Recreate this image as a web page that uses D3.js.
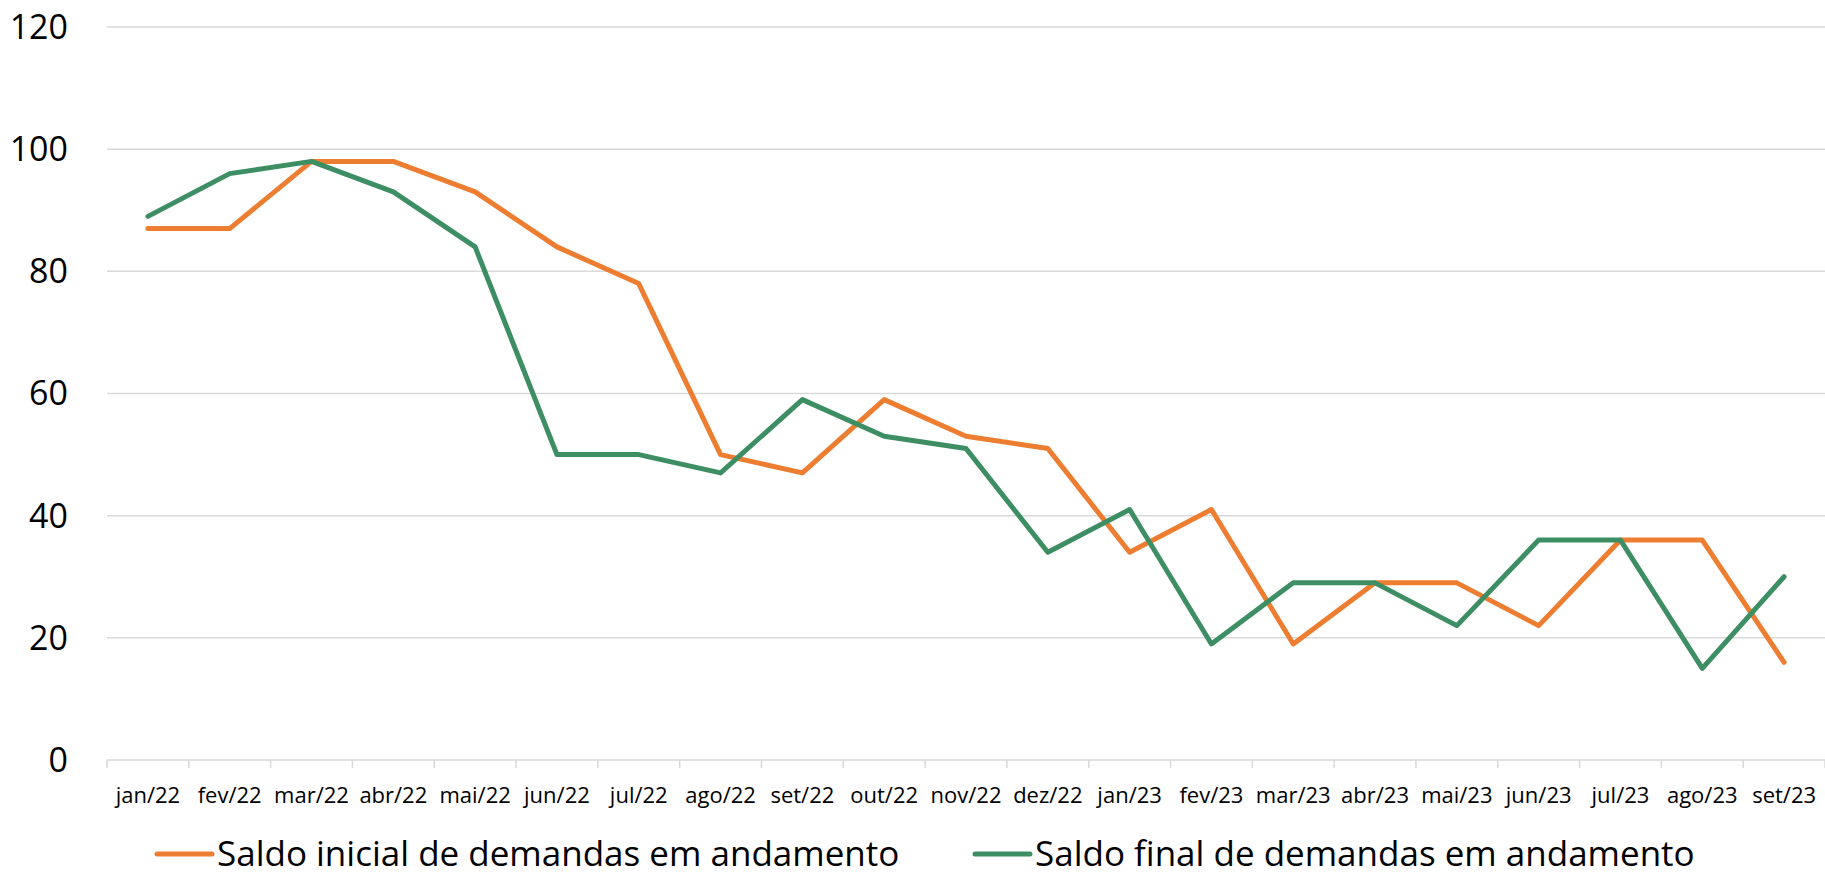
<!DOCTYPE html>
<html>
<head>
<meta charset="utf-8">
<script src="https://cdn.jsdelivr.net/npm/d3@7"></script>
<style>
  body { margin: 0; background: #fff; }
  svg { display: block; font-family: "Open Sans", "Noto Sans", sans-serif; }
</style>
</head>
<body>
<div id="chart"></div>
<script>
const months = ["jan/22", "fev/22", "mar/22", "abr/22", "mai/22", "jun/22", "jul/22", "ago/22", "set/22",
    "out/22", "nov/22", "dez/22", "jan/23", "fev/23", "mar/23", "abr/23", "mai/23", "jun/23", "jul/23",
    "ago/23", "set/23"]
const saldoInicial = [87, 87, 98, 98, 93, 84, 78, 50, 47, 59, 53, 51, 34, 41, 19, 29, 29, 22, 36, 36, 16]
const saldoFinal = [89, 96, 98, 93, 84, 50, 50, 47, 59, 53, 51, 34, 41, 19, 29, 29, 22, 36, 36, 15, 30]
const yTicks = [0, 20, 40, 60, 80, 100, 120]

const series = [
    { name: "Saldo inicial de demandas em andamento", values: saldoInicial, color: "#ED7D31" },
    { name: "Saldo final de demandas em andamento", values: saldoFinal, color: "#3E8E64" },
]

const width = 1825
const height = 876
const margin = { top: 27, right: 0, bottom: 116, left: 107 }

const svg = d3.select('#chart')
    .append('svg')
    .attr('width', width)
    .attr('height', height)

const x = d3.scaleBand()
    .domain(months)
    .range([margin.left, width - margin.right])
    .padding(0)

const y = d3.scaleLinear()
    .domain([0, 120])
    .range([height - margin.bottom, margin.top])

// gridlines
svg.append("g")
    .selectAll("line")
    .data(yTicks.filter(d => d > 0))
    .join("line")
    .attr("x1", margin.left)
    .attr("x2", width - margin.right)
    .attr("y1", d => y(d))
    .attr("y2", d => y(d))
    .attr("stroke", "#D9D9D9")
    .attr("stroke-width", 1.5)

// y labels
svg.append("g")
    .selectAll("text")
    .data(yTicks)
    .join("text")
    .attr("x", 68)
    .attr("y", d => y(d))
    .attr("dy", "0.35em")
    .attr("text-anchor", "end")
    .attr("font-size", 34)
    .attr("fill", "#000")
    .text(d => d)

// x axis with ticks between categories
const xAxis = svg.append("g")
const base = y(0)
xAxis.append("line")
    .attr("x1", margin.left)
    .attr("x2", width - margin.right)
    .attr("y1", base)
    .attr("y2", base)
    .attr("stroke", "#D9D9D9")
    .attr("stroke-width", 1.5)
xAxis.selectAll(".tick")
    .data(months.concat([null]))
    .join("line")
    .attr("class", "tick")
    .attr("x1", (d, i) => margin.left + i * x.bandwidth())
    .attr("x2", (d, i) => margin.left + i * x.bandwidth())
    .attr("y1", base)
    .attr("y2", base + 8)
    .attr("stroke", "#D9D9D9")
    .attr("stroke-width", 1.5)
xAxis.selectAll("text")
    .data(months)
    .join("text")
    .attr("x", d => x(d) + x.bandwidth() / 2)
    .attr("y", 803)
    .attr("text-anchor", "middle")
    .attr("font-size", 22)
    .attr("fill", "#000")
    .text(d => d)

// lines
const line = d3.line()
    .x((d, i) => x(months[i]) + x.bandwidth() / 2)
    .y(d => y(d))

svg.append("g")
    .selectAll("path")
    .data(series)
    .join("path")
    .attr("fill", "none")
    .attr("stroke", d => d.color)
    .attr("stroke-width", 5)
    .attr("stroke-linejoin", "round")
    .attr("stroke-linecap", "round")
    .attr("d", d => line(d.values))

// legend
const legendPos = [157, 975]
const legend = svg.append("g")
    .selectAll("g")
    .data(series)
    .join("g")
    .attr("transform", (d, i) => `translate(${legendPos[i]}, 854)`)
legend.append("line")
    .attr("x1", 0)
    .attr("x2", 55)
    .attr("stroke", d => d.color)
    .attr("stroke-width", 5)
    .attr("stroke-linecap", "round")
legend.append("text")
    .attr("x", 60)
    .attr("y", 12)
    .attr("font-size", 35)
    .attr("fill", "#000")
    .text(d => d.name)
</script>
</body>
</html>
